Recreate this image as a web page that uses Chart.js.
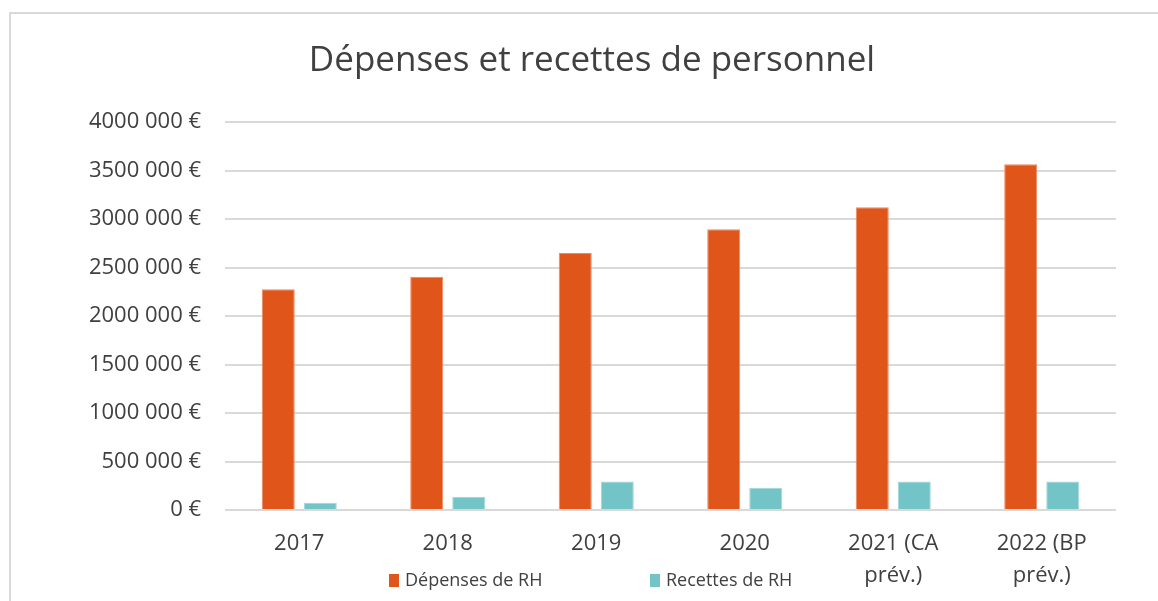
<!DOCTYPE html>
<html lang="fr">
<head>
<meta charset="utf-8">
<title>Dépenses et recettes de personnel</title>
<script src="https://cdn.jsdelivr.net/npm/chart.js@4/dist/chart.umd.min.js"></script>
<style>
    body { margin: 0; background: #ffffff; }
    canvas { display: block; }
</style>
</head>
<body>
<canvas id="rhChart" width="1158" height="601"></canvas>
<script>
// Données du graphique
const categories = ['2017', '2018', '2019', '2020', ['2021 (CA', 'prév.)'], ['2022 (BP', 'prév.)']];
const depensesRH = [2275000, 2405000, 2650000, 2895000, 3120000, 3565000];
const recettesRH = [75000, 137000, 295000, 229000, 295000, 295000];
const yTickLabels = ['0 €', '500 000 €', '1000 000 €', '1500 000 €', '2000 000 €',
    '2500 000 €', '3000 000 €', '3500 000 €', '4000 000 €'];

const textColor = '#404040';
const fontFamily = '"Open Sans", sans-serif';

// Cadre gris en haut et à gauche
const framePlugin = {
    id: 'frame',
    beforeDraw(chart) {
        const ctx = chart.ctx;
        ctx.save();
        ctx.strokeStyle = '#d9d9d9';
        ctx.lineWidth = 2;
        ctx.beginPath();
        ctx.moveTo(10, chart.height);
        ctx.lineTo(10, 13);
        ctx.lineTo(chart.width, 13);
        ctx.stroke();
        ctx.restore();
    }
};

// Légende dessinée à la main (même ligne que la 2e ligne des étiquettes)
const legendPlugin = {
    id: 'customLegend',
    afterDraw(chart) {
        const ctx = chart.ctx;
        const area = chart.chartArea;
        const offsets = [164, 425];
        const y = 581;
        ctx.save();
        ctx.font = '18px ' + fontFamily;
        ctx.textBaseline = 'middle';
        chart.data.datasets.forEach((ds, i) => {
            const x = area.left + offsets[i];
            ctx.fillStyle = ds.backgroundColor;
            ctx.fillRect(x, y - 7, 10, 13);
            ctx.fillStyle = textColor;
            ctx.fillText(ds.label, x + 16, y);
        });
        ctx.restore();
    }
};

document.addEventListener('DOMContentLoaded', () => {
    const ctx = document.getElementById('rhChart').getContext('2d');
    new Chart(ctx, {
        type: 'bar',
        data: {
            labels: categories,
            datasets: [{
                label: 'Dépenses de RH',
                data: depensesRH,
                backgroundColor: '#e0561a',
                borderColor: '#ec8a60',
                borderWidth: 1
            }, {
                label: 'Recettes de RH',
                data: recettesRH,
                backgroundColor: '#72c4c6',
                borderColor: '#9ed6d7',
                borderWidth: 1
            }]
        },
        options: {
            responsive: false,
            animation: false,
            categoryPercentage: 0.566,
            barPercentage: 0.786,
            layout: {
                padding: { left: 68, right: 42, top: 0, bottom: 9 }
            },
            plugins: {
                legend: { display: false },
                tooltip: { enabled: false },
                title: {
                    display: true,
                    text: 'Dépenses et recettes de personnel',
                    color: textColor,
                    font: { family: fontFamily, size: 35, weight: 'normal' },
                    padding: { top: 40, bottom: 40 }
                }
            },
            scales: {
                x: {
                    afterFit: (scale) => { scale.height = 82; },
                    grid: { display: false, drawTicks: false },
                    border: { display: false },
                    ticks: {
                        color: textColor,
                        font: { family: fontFamily, size: 22, lineHeight: 1.45 },
                        padding: 18,
                        maxRotation: 0,
                        autoSkip: false
                    }
                },
                y: {
                    min: 0,
                    max: 4000000,
                    afterFit: (scale) => { scale.width = 157; },
                    grid: { color: '#d9d9d9', lineWidth: 2, drawTicks: false },
                    border: { display: false },
                    ticks: {
                        stepSize: 500000,
                        color: textColor,
                        font: { family: fontFamily, size: 22 },
                        padding: 24,
                        callback: (value, index) => yTickLabels[index]
                    }
                }
            }
        },
        plugins: [framePlugin, legendPlugin]
    });
});
</script>
</body>
</html>
